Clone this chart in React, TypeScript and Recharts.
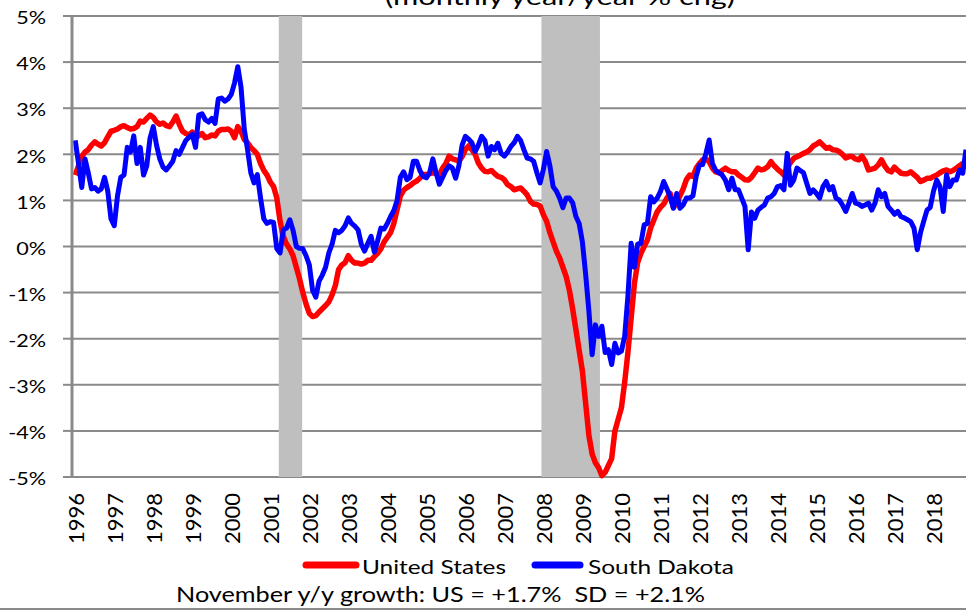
import { LineChart, Line, XAxis, YAxis, CartesianGrid, ReferenceArea, Legend } from 'recharts'

// monthly y/y % change, Jan 1996 .. Nov 2018 (month index 0 = Jan 1996)
const START_YEAR = 1996

const yearLabels = [
    1996, 1997, 1998, 1999, 2000, 2001, 2002, 2003, 2004, 2005, 2006, 2007,
    2008, 2009, 2010, 2011, 2012, 2013, 2014, 2015, 2016, 2017, 2018,
]

const yTicks = [-5, -4, -3, -2, -1, 0, 1, 2, 3, 4, 5]

const seriesNames = ['United States', 'South Dakota']

const usGrowth = [
    1.55, 1.75, 1.95, 2.05, 2.1, 2.2, 2.27, 2.22, 2.18, 2.25, 2.38, 2.5,
    2.52, 2.55, 2.6, 2.62, 2.58, 2.55, 2.56, 2.6, 2.72, 2.7, 2.78, 2.85,
    2.8, 2.7, 2.65, 2.68, 2.62, 2.6, 2.7, 2.83, 2.65, 2.5, 2.45, 2.42,
    2.48, 2.42, 2.4, 2.45, 2.36, 2.38, 2.42, 2.4, 2.5, 2.54, 2.54, 2.55,
    2.5, 2.36, 2.6, 2.5, 2.32, 2.25, 2.15, 2.08, 2.0, 1.8, 1.65, 1.55,
    1.4, 1.3, 1.05, 0.55, 0.22, 0.05, -0.05, -0.2, -0.45, -0.7, -1.0, -1.25,
    -1.45, -1.52, -1.5, -1.42, -1.35, -1.28, -1.2, -1.05, -0.85, -0.5, -0.4, -0.35,
    -0.2, -0.3, -0.36, -0.36, -0.38, -0.36, -0.3, -0.3, -0.22, -0.15, -0.05, 0.1,
    0.2, 0.3, 0.5, 0.8, 1.1, 1.22, 1.28, 1.32, 1.38, 1.42, 1.48, 1.56,
    1.56, 1.58, 1.6, 1.58, 1.55, 1.7, 1.8, 1.96, 1.9, 1.88, 1.85, 1.95,
    2.1, 2.18, 2.1, 2.0, 1.81, 1.7, 1.63, 1.62, 1.65, 1.58, 1.52, 1.5,
    1.45, 1.34, 1.3, 1.23, 1.25, 1.27, 1.2, 1.12, 0.98, 0.92, 0.91, 0.88,
    0.69, 0.55, 0.3, 0.1, -0.1, -0.25, -0.45, -0.65, -0.95, -1.35, -1.8, -2.25,
    -2.7, -3.4, -4.1, -4.5, -4.69, -4.8, -4.97, -4.9, -4.75, -4.6, -4.0, -3.75,
    -3.5, -2.95, -2.3, -1.55, -0.8, -0.35, -0.15, 0.0, 0.14, 0.4, 0.58, 0.75,
    0.85, 0.92, 1.05, 1.15, 0.85, 0.95, 1.1, 1.25, 1.45, 1.55, 1.52, 1.7,
    1.8, 1.88, 1.9, 1.84, 1.7, 1.62, 1.6, 1.65, 1.7, 1.65, 1.62, 1.62,
    1.55, 1.5, 1.45, 1.44, 1.5, 1.6, 1.7, 1.66, 1.68, 1.73, 1.84, 1.75,
    1.68, 1.62, 1.55, 1.7, 1.82, 1.91, 1.95, 1.98, 2.02, 2.05, 2.1, 2.18,
    2.22, 2.27, 2.2, 2.13, 2.15, 2.1, 2.09, 2.06, 2.0, 1.92, 1.95, 1.95,
    1.9, 1.88, 1.96, 1.85, 1.66, 1.68, 1.7, 1.77, 1.88, 1.75, 1.65, 1.62,
    1.72, 1.65, 1.59, 1.58, 1.58, 1.62, 1.56, 1.5, 1.41, 1.44, 1.48, 1.48,
    1.52, 1.55, 1.6, 1.64, 1.66, 1.62, 1.65, 1.7, 1.75, 1.8, 1.78,
]

const sdGrowth = [
    2.3, 1.8, 1.28, 1.9, 1.6, 1.25, 1.28, 1.2, 1.25, 1.5, 1.2, 0.6,
    0.45, 1.1, 1.5, 1.55, 2.15, 2.05, 2.4, 1.8, 2.15, 1.55, 1.75, 2.35,
    2.6, 2.2, 1.9, 1.72, 1.66, 1.75, 1.85, 2.08, 2.0, 2.15, 2.3, 2.37,
    2.43, 2.15, 2.85, 2.88, 2.75, 2.7, 2.78, 2.67, 3.2, 3.22, 3.15, 3.2,
    3.3, 3.55, 3.9, 3.45, 2.54, 2.1, 1.6, 1.38, 1.56, 1.05, 0.6, 0.5,
    0.54, 0.52, -0.05, -0.14, 0.36, 0.4, 0.58, 0.35, 0.0, -0.04, -0.05, -0.2,
    -0.4, -0.95, -1.1, -0.75, -0.62, -0.45, -0.14, 0.05, 0.35, 0.3, 0.35, 0.45,
    0.62, 0.5, 0.44, 0.36, 0.05, -0.1, 0.07, 0.22, -0.12, 0.12, 0.4, 0.38,
    0.5, 0.65, 0.78, 1.0, 1.5, 1.62, 1.45, 1.5, 1.85, 1.85, 1.65, 1.52,
    1.49, 1.6, 1.9, 1.6, 1.35, 1.5, 1.65, 1.75, 1.7, 1.48, 1.75, 2.2,
    2.39, 2.33, 2.25, 2.06, 2.2, 2.39, 2.3, 1.96, 2.17, 2.1, 2.24, 2.02,
    1.96, 2.05, 2.17, 2.25, 2.39, 2.3, 2.1, 1.92, 1.9, 1.85, 1.6, 1.38,
    1.67, 2.06, 1.75, 1.3, 1.2, 1.05, 0.84, 1.05, 1.05, 0.95, 0.65, 0.5,
    0.1, -0.6, -1.4, -2.35, -1.7, -1.95, -1.73, -2.3, -2.24, -2.56, -2.1, -2.31,
    -2.27, -1.95, -1.08, 0.07, -0.45, 0.05, 0.07, 0.47, 0.5, 1.08, 0.97, 1.05,
    1.19, 1.41, 1.25, 1.08, 0.83, 1.15, 0.83, 0.9, 1.05, 1.05, 1.1, 1.52,
    1.77, 1.78, 2.02, 2.31, 1.8, 1.65, 1.6, 1.55, 1.44, 1.23, 1.48, 1.23,
    1.23, 1.05, 0.87, -0.07, 0.75, 0.61, 0.79, 0.85, 0.9, 1.05, 1.08, 1.15,
    1.3, 1.32, 1.23, 2.02, 1.33, 1.44, 1.7, 1.65, 1.6, 1.37, 1.15, 1.23,
    1.15, 1.05, 1.3, 1.41, 1.23, 1.3, 1.05, 1.01, 0.9, 0.76, 0.94, 1.15,
    0.94, 0.92, 0.87, 0.9, 0.94, 0.79, 0.94, 1.23, 1.08, 1.15, 0.87, 0.79,
    0.7, 0.76, 0.65, 0.62, 0.58, 0.54, 0.4, -0.07, 0.3, 0.55, 0.79, 0.85,
    1.2, 1.44, 1.3, 0.76, 1.55, 1.3, 1.44, 1.44, 1.66, 1.59, 2.1,
]

// recession shading, in month-index units
const recessions = [
    { from: 62.6, to: 69.8 },
    { from: 143.4, to: 161.4 },
]

const data = usGrowth.map((us, i) => ({ month: i, us, sd: sdGrowth[i] }))
const monthTicks = yearLabels.map((_, i) => i * 12)

const FONT = 'Lato, "Open Sans", sans-serif'
const GRID = '#8a8a8a'

function PctTick({ x, y, payload }: any) {
    return (
        <text
            transform={`translate(${x},${y + 1}) scale(1.2,1)`}
            textAnchor="end"
            dominantBaseline="central"
            fontFamily={FONT}
            fontSize={18}
            fill="#000">
            {`${payload.value}%`}
        </text>
    )
}

function YearTick({ x, y, payload }: any) {
    return (
        <text
            transform={`translate(${x},${y}) rotate(-90)`}
            textAnchor="end"
            dominantBaseline="central"
            fontFamily={FONT}
            fontSize={22}
            fill="#000">
            {START_YEAR + payload.value / 12}
        </text>
    )
}

// swatch start/end and label start/width, relative to the legend box
const legendLayout = [
    { x1: 6, x2: 56, tx: 62, tw: 144 },
    { x1: 235, x2: 280, tx: 288, tw: 146 },
]

function LegendContent({ payload }: any) {
    const items = [...(payload || [])].sort(
        (a: any, b: any) => seriesNames.indexOf(a.value) - seriesNames.indexOf(b.value)
    )
    return (
        <svg width={440} height={30}>
            {items.map((p: any, i: number) => {
                const l = legendLayout[i]
                return (
                    <g key={p.value}>
                        <line x1={l.x1} x2={l.x2} y1={15} y2={15} stroke={p.color} strokeWidth={7} strokeLinecap="round" />
                        <text
                            x={l.tx}
                            y={16}
                            dominantBaseline="central"
                            fontFamily={FONT}
                            fontSize={19}
                            textLength={l.tw}
                            lengthAdjust="spacingAndGlyphs"
                            fill="#000">
                            {p.value}
                        </text>
                    </g>
                )
            })}
        </svg>
    )
}

export default function App() {
    return (
        <div style={{ position: 'absolute', left: 0, top: 0, width: 966, height: 613, background: '#fff', overflow: 'hidden' }}>
            <LineChart width={966} height={613} data={data} margin={{ top: 16, right: 0, left: 0, bottom: 76 }}>
                <CartesianGrid vertical={false} stroke={GRID} strokeWidth={2} />
                {recessions.map((r) => (
                    <ReferenceArea key={r.from} x1={r.from} x2={r.to} fill="#bfbfbf" fillOpacity={1} stroke="none" ifOverflow="hidden" />
                ))}
                <XAxis
                    type="number"
                    dataKey="month"
                    domain={[-1, 274]}
                    ticks={monthTicks}
                    interval={0}
                    tick={<YearTick />}
                    tickLine={false}
                    tickSize={0}
                    tickMargin={16}
                    axisLine={false}
                    height={60}
                    allowDataOverflow
                />
                <YAxis
                    type="number"
                    domain={[-5, 5]}
                    ticks={yTicks}
                    interval={0}
                    width={72}
                    tickSize={9}
                    tickMargin={17}
                    tick={<PctTick />}
                    axisLine={{ stroke: GRID, strokeWidth: 3 }}
                    tickLine={{ stroke: GRID, strokeWidth: 2 }}
                />
                <Line
                    type="linear"
                    dataKey="us"
                    name={seriesNames[0]}
                    stroke="#ff0000"
                    strokeWidth={5.5}
                    strokeLinejoin="round"
                    dot={false}
                    isAnimationActive={false}
                />
                <Line
                    type="linear"
                    dataKey="sd"
                    name={seriesNames[1]}
                    stroke="#0000ff"
                    strokeWidth={5}
                    strokeLinejoin="round"
                    dot={false}
                    isAnimationActive={false}
                />
                <Legend
                    verticalAlign="middle"
                    align="center"
                    content={<LegendContent />}
                    wrapperStyle={{ top: 550, left: 300, width: 440, height: 30 }}
                />
            </LineChart>
            <svg width={966} height={613} style={{ position: 'absolute', left: 0, top: 0, pointerEvents: 'none' }}>
                <text x={560} y={5} textAnchor="middle" fontFamily={FONT} fontSize={23} textLength={350} lengthAdjust="spacingAndGlyphs" fill="#000">
                    (monthly year/year % chg)
                </text>
                <text x={176} y={602} fontFamily={FONT} fontSize={21} textLength={529} lengthAdjust="spacingAndGlyphs" fill="#000">
                    November y/y growth: US = +1.7%{'\u00a0\u00a0'}SD = +2.1%
                </text>
                <line x1={0} x2={966} y1={609} y2={609} stroke={GRID} strokeWidth={2} />
            </svg>
        </div>
    )
}
